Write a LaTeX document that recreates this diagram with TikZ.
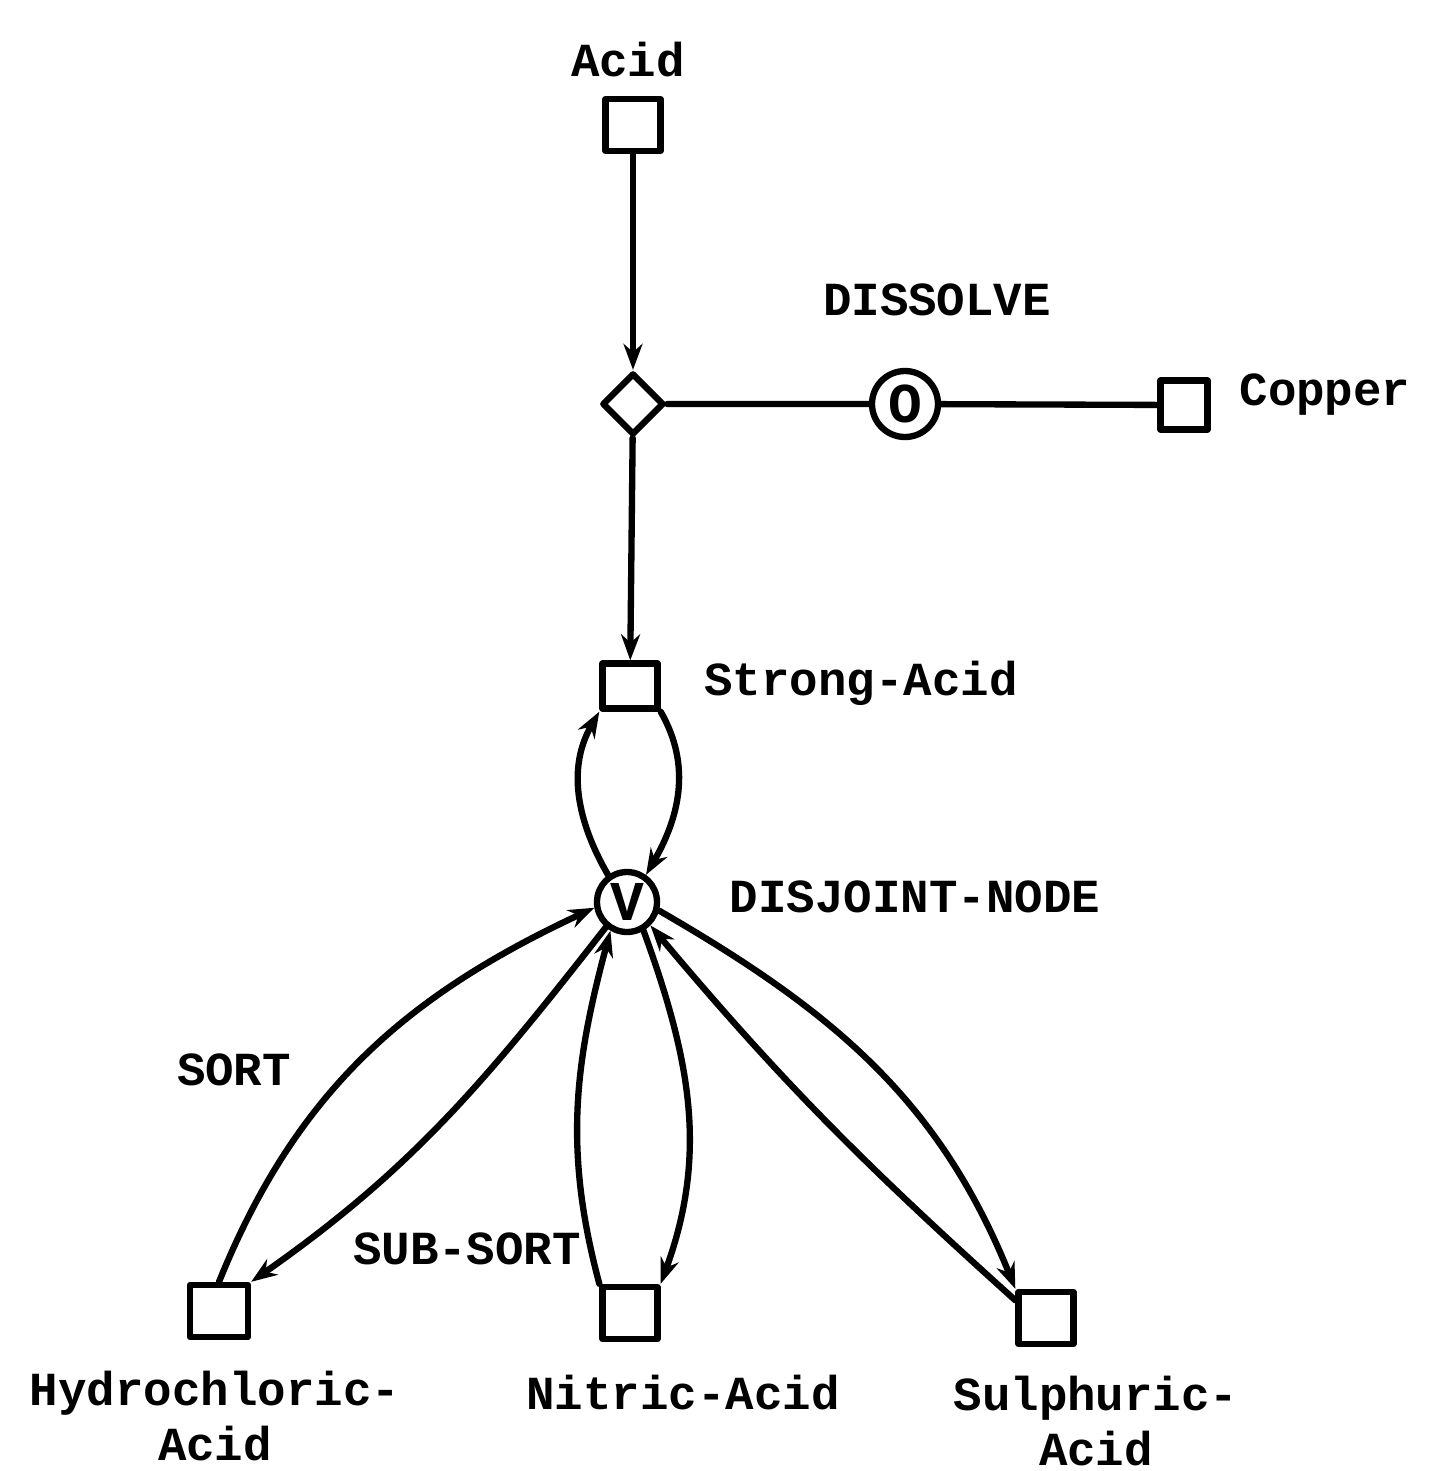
\documentclass[tikz,border=0pt]{standalone}
\usepackage{fontspec}
\setmonofont{Liberation Mono}
\usetikzlibrary{shapes.geometric,arrows.meta}
\begin{document}
\begin{tikzpicture}[line join=round,line cap=round,line width=1.8pt,
  font=\ttfamily\bfseries\fontsize{13.5}{15.5}\selectfont,
  >={Stealth[length=2.6mm,width=1.9mm]},
  concept/.style={draw,rectangle,minimum width=0.55cm,minimum height=0.52cm,inner sep=0pt},
  relation/.style={draw,circle,minimum size=0.6cm,inner sep=0pt,font=\ttfamily\bfseries\fontsize{16}{16}\selectfont},
  actor/.style={draw,diamond,minimum size=0.62cm,inner sep=0pt}]
\useasboundingbox (0,0) rectangle (14.29,-14.71);
\node[concept] (acid) at (6.33,-1.25) {};
\node[actor] (act) at (6.33,-4.04) {};
\node[relation,minimum size=0.66cm] (dissolve) at (9.05,-4.04) {O};
\node[concept,minimum width=0.47cm,minimum height=0.49cm] (copper) at (11.84,-4.05) {};
\node[concept,minimum height=0.45cm] (strong) at (6.30,-6.86) {};
\node[relation] (disjoint) at (6.27,-9.02) {V};
\node[concept,minimum width=0.58cm] (hydro) at (2.19,-13.11) {};
\node[concept] (nitric) at (6.30,-13.13) {};
\node[concept] (sulph) at (10.46,-13.18) {};
\node (acidlabel) at (6.28,-0.60) {Acid};
\node (dissolvelabel) at (9.37,-3.00) {DISSOLVE};
\node (copperlabel) at (13.25,-3.95) {Copper};
\node (stronglabel) at (8.61,-6.83) {Strong-Acid};
\node (disjointlabel) at (9.15,-8.97) {DISJOINT-NODE};
\node (sortlabel) at (2.34,-10.70) {SORT};
\node (subsortlabel) at (4.67,-12.49) {SUB-SORT};
\node[align=center] (hydrolabel) at (2.15,-14.16) {Hydrochloric-\\Acid};
\node (nitriclabel) at (6.83,-13.93) {Nitric-Acid};
\node[align=center] (sulphlabel) at (10.96,-14.21) {Sulphuric-\\Acid};
\draw[->] (acid)--(act);
\draw[->] (act)--(strong);
\draw (act)--(dissolve)--(copper);
\draw[->] (disjoint.125) to[out=120,in=240] (strong.south west);
\draw[->] (strong.south east) to[out=300,in=60] (disjoint.55);
\draw[->] (hydro.north) to[out=68,in=205] (disjoint.190);
\draw[->] (disjoint.230) to[out=232,in=35] (hydro.north east);
\draw[->] (nitric.north west) to[out=105,in=255] (disjoint.240);
\draw[->] (disjoint.300) to[out=290,in=70] (nitric.north east);
\draw[->] (sulph.150) to[out=138,in=-50] (disjoint.315);
\draw[->] (disjoint.345) to[out=330,in=112] (sulph.north west);
\end{tikzpicture}
\end{document}
